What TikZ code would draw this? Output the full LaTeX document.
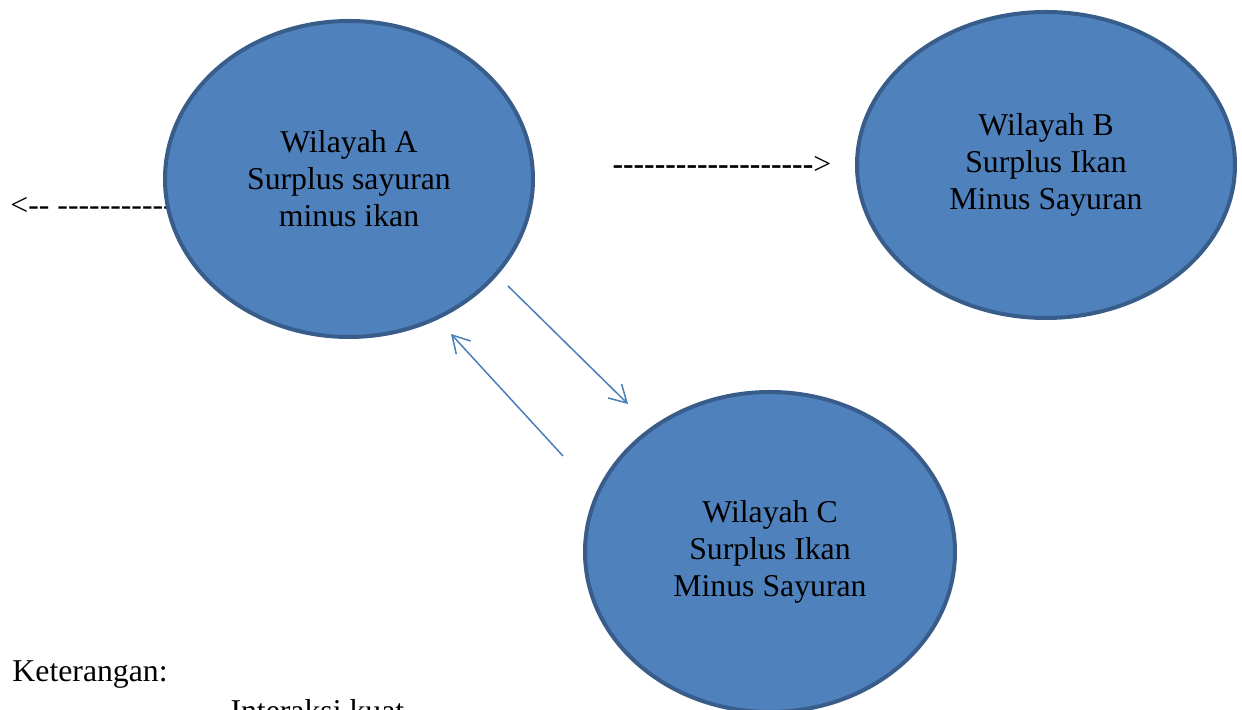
\documentclass[tikz,border=0pt]{standalone}
\usepackage{fontspec}
\setmainfont{Liberation Serif}[Ligatures=TeXOff]
\usetikzlibrary{shapes.geometric, arrows.meta}
\definecolor{regionfill}{HTML}{4F81BD}
\definecolor{regionedge}{HTML}{385D8A}
\definecolor{flowblue}{HTML}{4A7EBB}
\tikzset{
	bodytext/.style={font=\fontsize{12.7}{14.8}\selectfont}
}

\begin{document}
\begin{tikzpicture}[x=0.4pt, y=-0.4pt, >={Straight Barb[length=6.8pt, width=7.8pt]},
    region/.style={ellipse, draw=regionedge, line width=1.6pt, fill=regionfill, inner sep=0pt, align=center, bodytext},
    flow/.style={draw=flowblue, line width=0.6pt, ->}]
      \useasboundingbox (0,0) rectangle (1242,710);
      \clip (0,0) rectangle (1242,710);
      % dashed text arrows, set before the ellipses so A covers the end
      \node[bodytext, anchor=base west, inner sep=0pt] (leftdash) at (10,216) {<-- -----------};
      \node[bodytext, anchor=base west, inner sep=0pt] (rightdash) at (612,175) {{\bfseries -------------------}>};

      \node[region, minimum width=147.2pt, minimum height=126.4pt] (wa) at (349,179) {Wilayah A\\ Surplus sayuran\\ minus ikan};
      \node[region, minimum width=151.2pt, minimum height=122.4pt] (wb) at (1046,165) {Wilayah B\\ Surplus Ikan\\ Minus Sayuran};
      \node[region, minimum width=148pt, minimum height=128pt] (wc) at (770,552) {Wilayah C\\ Surplus Ikan\\ Minus Sayuran};

      % two way flow between A and C
      \coordinate (aout) at (508,286);
      \coordinate (cin) at (628,404);
      \coordinate (cout) at (563,456);
      \coordinate (ain) at (451,334);
      \draw[flow] (aout) -- (cin);
      \draw[flow] (cout) -- (ain);

      \node[bodytext, anchor=base west, inner sep=0pt] (ket) at (12,682) {Keterangan:};
      \node[bodytext, anchor=base west, inner sep=0pt] (kuat) at (230,722) {Interaksi kuat};
    \end{tikzpicture}
\end{document}
